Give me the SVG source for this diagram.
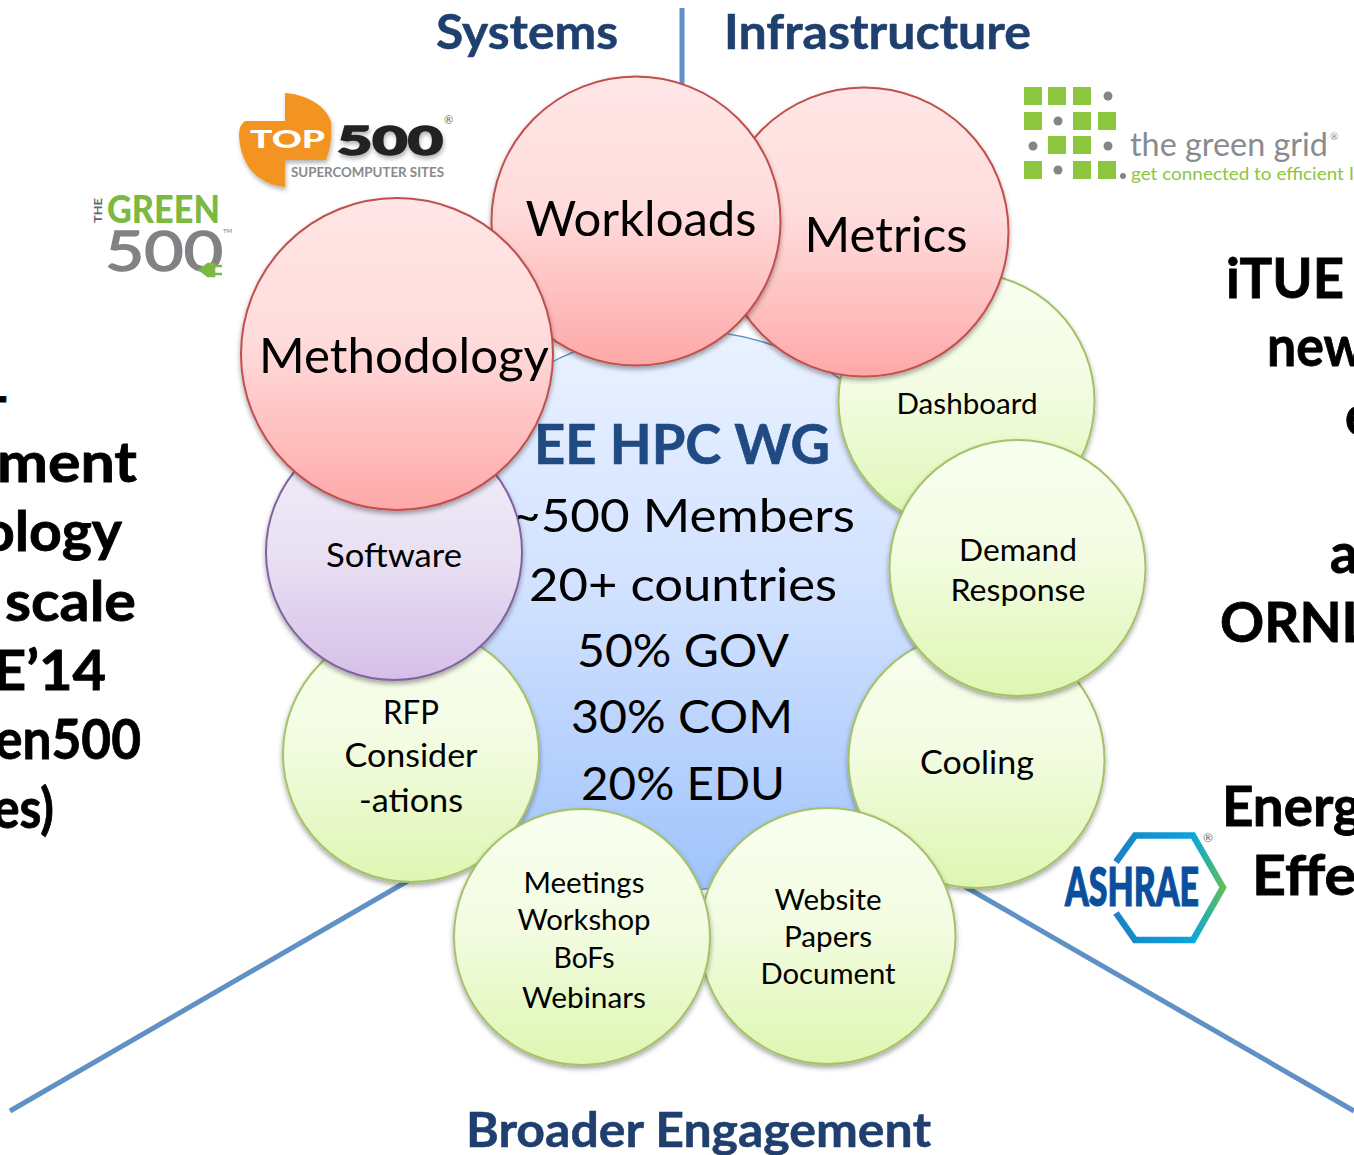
<svg xmlns="http://www.w3.org/2000/svg" width="1354" height="1155" viewBox="0 0 1354 1155">
<style>
text{font-family:"Lato","Carlito","Liberation Sans",sans-serif}
.c{text-anchor:middle;fill:#000}
.h{font-weight:700;font-size:47px;fill:#1f3f6e;stroke:#1f3f6e;stroke-width:.5}
.b{font-weight:700;font-size:56px;fill:#000;stroke:#000;stroke-width:.8}
.g{fill:url(#gg);stroke:#a4c268;stroke-width:2;filter:url(#sh)}
.r{fill:url(#rg);stroke:#c0504d;stroke-width:2;filter:url(#sh)}
.s{font-size:29px}
.m{font-size:48px}
.l{font-size:46px}
.line{stroke:#5f91c6;stroke-width:5;fill:none}
</style>
<defs>
<linearGradient id="gg" x1="0" y1="0" x2="0" y2="1"><stop offset="0" stop-color="#f8fff0"/><stop offset=".45" stop-color="#f3fce2"/><stop offset="1" stop-color="#def6b2"/></linearGradient>
<linearGradient id="rg" x1="0" y1="0" x2="0" y2="1"><stop offset="0" stop-color="#ffe6e6"/><stop offset=".45" stop-color="#ffdcdc"/><stop offset="1" stop-color="#ffa8a8"/></linearGradient>
<linearGradient id="pg" x1="0" y1="0" x2="0" y2="1"><stop offset="0" stop-color="#f3eef9"/><stop offset=".5" stop-color="#e9e1f3"/><stop offset="1" stop-color="#d6bfe8"/></linearGradient>
<linearGradient id="bg" x1="0" y1="0" x2="0" y2="1"><stop offset="0" stop-color="#eaf2ff"/><stop offset=".5" stop-color="#cfe0ff"/><stop offset="1" stop-color="#9fc3fb"/></linearGradient>
<linearGradient id="ag" gradientUnits="userSpaceOnUse" x1="1113" y1="0" x2="1227" y2="0"><stop offset="0" stop-color="#1b80c4"/><stop offset=".7" stop-color="#0aa6dc"/><stop offset="1" stop-color="#6cc04a"/></linearGradient>
<filter id="sh" x="-10%" y="-10%" width="120%" height="120%"><feDropShadow dx="0" dy="3" stdDeviation="2.5" flood-color="#000" flood-opacity=".35"/></filter>
<filter id="ls" x="-10%" y="-10%" width="120%" height="130%"><feDropShadow dx="1" dy="3" stdDeviation="2" flood-color="#000" flood-opacity=".3"/></filter>
</defs>

<g id="connectors">
<path class="line" d="M682 8V100"/>
<path class="line" d="M418 875L10 1111"/>
<path class="line" d="M950 878L1354 1111"/>
</g>

<g id="heading-systems"><text class="h" x="436" y="49" textLength="182" lengthAdjust="spacingAndGlyphs">Systems</text></g>
<g id="heading-infrastructure"><text class="h" x="724" y="49" textLength="307" lengthAdjust="spacingAndGlyphs">Infrastructure</text></g>
<g id="heading-broader"><text class="h" x="466" y="1147" textLength="465" lengthAdjust="spacingAndGlyphs">Broader Engagement</text></g>

<g id="logo-top500">
<path d="M285 93C312 95 328 110 331 122L331 140Q330 150 326 160H285V187C258 185 240 165 239 135Q239 125 245 121H285Z" fill="#f39322" filter="url(#ls)"/>
<text x="250" y="148" font-size="25" font-weight="900" fill="#fff" textLength="75" lengthAdjust="spacingAndGlyphs">TOP</text>
<text x="337" y="155" font-size="39" font-weight="900" fill="#222" stroke="#222" stroke-width="1.5" textLength="106" lengthAdjust="spacingAndGlyphs" filter="url(#ls)">500</text>
<text x="291" y="177" font-size="14" font-weight="700" fill="#868a8e" textLength="153" lengthAdjust="spacingAndGlyphs">SUPERCOMPUTER SITES</text>
<text x="444" y="124" font-size="11" fill="#666">®</text>
</g>

<g id="logo-green500">
<text x="107" y="223" font-size="37" font-weight="900" fill="#7cb942" textLength="113" lengthAdjust="spacingAndGlyphs">GREEN</text>
<text transform="translate(102,223) rotate(-90)" font-size="12" font-weight="700" fill="#666" textLength="25" lengthAdjust="spacingAndGlyphs">THE</text>
<text x="105" y="271" font-size="56" fill="#808285" stroke="#808285" stroke-width="1.5" textLength="118" lengthAdjust="spacingAndGlyphs">500</text>
<path d="M200 270L208 264H214V276H208ZM214 266H222M214 274H222" fill="#7cb942" stroke="#7cb942" stroke-width="2.5"/>
<text x="223" y="233" font-size="6" fill="#777">TM</text>
</g>

<g id="logo-green-grid" fill="#8cc63f">
<rect x="1024" y="87" width="18" height="18"/><rect x="1048" y="87" width="18" height="18"/><rect x="1073" y="87" width="18" height="18"/>
<rect x="1024" y="112" width="18" height="18"/><rect x="1073" y="112" width="18" height="18"/><rect x="1098" y="112" width="18" height="18"/>
<rect x="1048" y="136" width="18" height="18"/><rect x="1073" y="136" width="18" height="18"/>
<rect x="1024" y="161" width="18" height="18"/><rect x="1073" y="161" width="18" height="18"/><rect x="1098" y="161" width="18" height="18"/>
<g fill="#848589"><circle cx="1108" cy="96" r="4.5"/><circle cx="1058" cy="121" r="4.5"/><circle cx="1033" cy="146" r="4.5"/><circle cx="1108" cy="146" r="4.5"/><circle cx="1058" cy="170" r="4.5"/><circle cx="1123" cy="176" r="3"/></g>
<text x="1130" y="156" font-size="33" fill="#8a8b8e" textLength="198" lengthAdjust="spacingAndGlyphs">the green grid</text>
<text x="1330" y="140" font-size="10" fill="#8a8b8e">®</text>
<text x="1131" y="180" font-size="18" fill="#8cc63f" textLength="223" lengthAdjust="spacingAndGlyphs">get connected to efficient I</text>
</g>

<g id="logo-ashrae">
<path d="M1116 862L1135 835.5H1193L1223 887.5L1193 940H1135L1116 913" fill="none" stroke="url(#ag)" stroke-width="6.5"/>
<text x="1065" y="906" font-size="53" font-weight="900" fill="#0a4f9e" stroke="#0a4f9e" stroke-width="1.2" textLength="134" lengthAdjust="spacingAndGlyphs">ASHRAE</text>
<text x="1203" y="842" font-size="12" fill="#666">®</text>
</g>

<g id="left-text">
<text class="b" x="-5" y="416" textLength="13" lengthAdjust="spacingAndGlyphs">-</text>
<text class="b" x="-3" y="482" textLength="140" lengthAdjust="spacingAndGlyphs">ment</text>
<text class="b" x="-18" y="551" textLength="140" lengthAdjust="spacingAndGlyphs">ology</text>
<text class="b" x="5" y="621" textLength="131" lengthAdjust="spacingAndGlyphs">scale</text>
<text class="b" x="-7" y="690" textLength="113" lengthAdjust="spacingAndGlyphs">E’14</text>
<text class="b" x="-5" y="759" textLength="146" lengthAdjust="spacingAndGlyphs">en500</text>
<text class="b" x="-7" y="828" textLength="61" lengthAdjust="spacingAndGlyphs">es)</text>
</g>

<g id="right-text">
<text class="b" x="1226" y="298" textLength="118" lengthAdjust="spacingAndGlyphs">iTUE</text>
<text class="b" x="1267" y="366" textLength="98" lengthAdjust="spacingAndGlyphs">new</text>
<text class="b" x="1345" y="435" textLength="28" lengthAdjust="spacingAndGlyphs">e</text>
<text class="b" x="1330" y="573" textLength="28" lengthAdjust="spacingAndGlyphs">a</text>
<text class="b" x="1220" y="642" textLength="150" lengthAdjust="spacingAndGlyphs">ORNL</text>
<text class="b" x="1222" y="826" textLength="140" lengthAdjust="spacingAndGlyphs">Energ</text>
<text class="b" x="1252" y="895" textLength="104" lengthAdjust="spacingAndGlyphs">Effe</text>
</g>

<g id="node-hub">
<circle cx="682" cy="610" r="280" fill="url(#bg)" stroke="#5f91c6" stroke-width="1.5"/>
<text class="c" x="682" y="464" font-size="56" font-weight="700" style="fill:#1f4a82;stroke:#1f4a82;stroke-width:.6" textLength="296" lengthAdjust="spacingAndGlyphs">EE HPC WG</text>
<text class="c l" x="683" y="532" textLength="344" lengthAdjust="spacingAndGlyphs">~500 Members</text>
<text class="c l" x="683" y="601" textLength="308" lengthAdjust="spacingAndGlyphs">20+ countries</text>
<text class="c l" x="683" y="667" textLength="212" lengthAdjust="spacingAndGlyphs">50% GOV</text>
<text class="c l" x="682" y="733" textLength="222" lengthAdjust="spacingAndGlyphs">30% COM</text>
<text class="c l" x="683" y="800" textLength="204" lengthAdjust="spacingAndGlyphs">20% EDU</text>
</g>

<g id="node-dashboard"><circle class="g" cx="966.5" cy="401" r="128"/><text class="c s" x="967" y="414" textLength="141" lengthAdjust="spacingAndGlyphs">Dashboard</text></g>
<g id="node-cooling"><circle class="g" cx="976.5" cy="760" r="128"/><text class="c" x="977" y="774" font-size="33" textLength="114" lengthAdjust="spacingAndGlyphs">Cooling</text></g>
<g id="node-demand"><circle class="g" cx="1017.5" cy="568" r="128"/><text class="c" x="1018" y="561" font-size="31" textLength="118" lengthAdjust="spacingAndGlyphs">Demand</text><text class="c" x="1018" y="601" font-size="31" textLength="135" lengthAdjust="spacingAndGlyphs">Response</text></g>
<g id="node-website"><circle class="g" cx="827.5" cy="936" r="128"/><text class="c s" x="828" y="910" textLength="107" lengthAdjust="spacingAndGlyphs">Website</text><text class="c s" x="828" y="947" textLength="88" lengthAdjust="spacingAndGlyphs">Papers</text><text class="c s" x="828" y="984" textLength="135" lengthAdjust="spacingAndGlyphs">Document</text></g>
<g id="node-rfp"><circle class="g" cx="411" cy="754" r="128"/><text class="c" x="411" y="724" font-size="32" textLength="56" lengthAdjust="spacingAndGlyphs">RFP</text><text class="c" x="411" y="767" font-size="32" textLength="133" lengthAdjust="spacingAndGlyphs">Consider</text><text class="c" x="411" y="812" font-size="32" textLength="104" lengthAdjust="spacingAndGlyphs">-ations</text></g>
<g id="node-meetings"><circle class="g" cx="582" cy="937" r="128"/><text class="c s" x="584" y="893" textLength="121" lengthAdjust="spacingAndGlyphs">Meetings</text><text class="c s" x="584" y="930" textLength="133" lengthAdjust="spacingAndGlyphs">Workshop</text><text class="c s" x="584" y="968" textLength="61" lengthAdjust="spacingAndGlyphs">BoFs</text><text class="c s" x="584" y="1008" textLength="124" lengthAdjust="spacingAndGlyphs">Webinars</text></g>
<g id="node-software"><circle cx="394" cy="552" r="128" fill="url(#pg)" stroke="#8064a2" stroke-width="2" filter="url(#sh)"/><text class="c" x="394" y="567" font-size="32" textLength="136" lengthAdjust="spacingAndGlyphs">Software</text></g>
<g id="node-metrics"><circle class="r" cx="864" cy="232" r="144.5"/><text class="c m" x="886" y="252" textLength="163" lengthAdjust="spacingAndGlyphs">Metrics</text></g>
<g id="node-workloads"><circle class="r" cx="636" cy="221" r="144.5"/><text class="c m" x="641" y="236" textLength="231" lengthAdjust="spacingAndGlyphs">Workloads</text></g>
<g id="node-methodology"><circle class="r" cx="397" cy="354" r="156"/><text class="c m" x="404" y="373" textLength="290" lengthAdjust="spacingAndGlyphs">Methodology</text></g>
</svg>
